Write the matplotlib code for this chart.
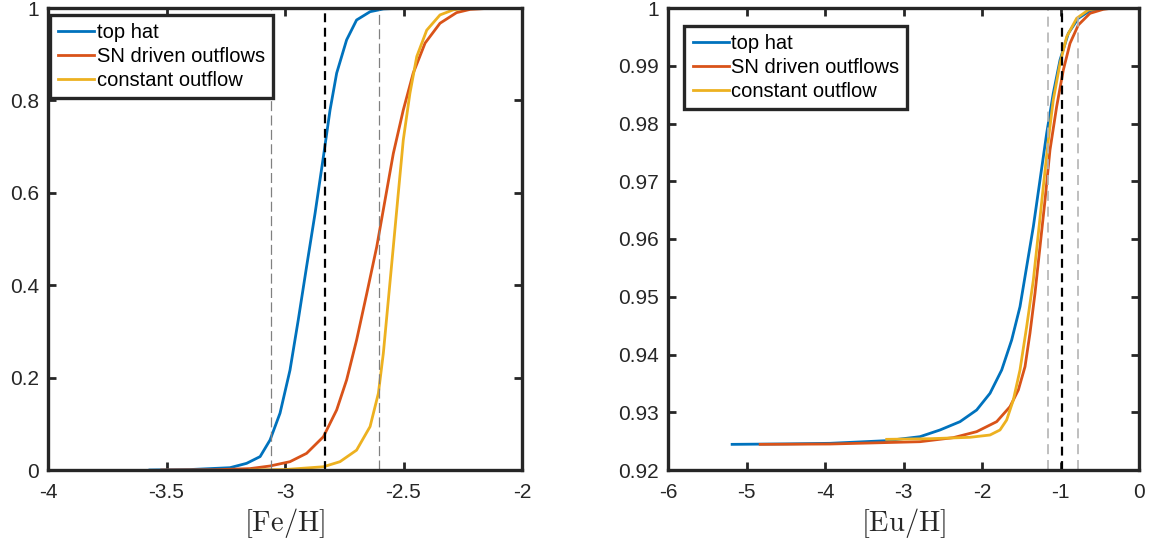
import matplotlib
matplotlib.use('Agg')
import matplotlib.pyplot as plt

plt.rcParams['font.family'] = ['Liberation Sans', 'DejaVu Sans']
plt.rcParams['mathtext.fontset'] = 'cm'

# colours (MATLAB defaults)
c_blue = '#0072BD'
c_red = '#D95319'
c_yel = '#EDB120'
labels = ['top hat', 'SN driven outflows', 'constant outflow']

# ---- left panel: [Fe/H] cumulative distributions
fe_top_x = [-3.57, -3.40, -3.232, -3.162, -3.105, -3.063, -3.021, -2.979, -2.944, -2.909,
            -2.873, -2.838, -2.810, -2.782, -2.740, -2.698, -2.641, -2.585, -2.487]
fe_top_y = [0.0, 0.001, 0.005, 0.0144, 0.029, 0.065, 0.123, 0.216, 0.325, 0.44,
            0.556, 0.678, 0.779, 0.859, 0.931, 0.974, 0.992, 0.998, 1.0]
fe_sn_x = [-3.52, -3.30, -3.148, -3.063, -2.979, -2.909, -2.838, -2.782, -2.740, -2.698,
           -2.655, -2.613, -2.578, -2.543, -2.501, -2.459, -2.409, -2.346, -2.276, -2.219,
           -2.15, -2.056]
fe_sn_y = [0.0, 0.0005, 0.003, 0.0087, 0.018, 0.036, 0.072, 0.130, 0.195, 0.281,
           0.382, 0.483, 0.584, 0.685, 0.779, 0.859, 0.924, 0.967, 0.990, 0.997,
           0.999, 1.0]
fe_con_x = [-3.148, -3.00, -2.838, -2.768, -2.698, -2.641, -2.606, -2.585, -2.564, -2.543,
            -2.522, -2.501, -2.473, -2.444, -2.402, -2.346, -2.290, -2.233]
fe_con_y = [0.0, 0.001, 0.007, 0.018, 0.043, 0.094, 0.166, 0.253, 0.368, 0.483,
            0.599, 0.714, 0.815, 0.895, 0.952, 0.985, 0.996, 1.0]
fe_vlines_grey = [-3.060, -2.602]
fe_vline_black = -2.831

# ---- right panel: [Eu/H] cumulative distributions
eu_top_x = [-5.183, -4.5, -3.936, -3.214, -2.790, -2.535, -2.280, -2.068, -1.898, -1.749,
            -1.622, -1.516, -1.431, -1.346, -1.261, -1.176, -1.092, -1.006, -0.900, -0.773,
            -0.624, -0.411]
eu_top_y = [0.92444, 0.92452, 0.92462, 0.92508, 0.92577, 0.92693, 0.92837, 0.93039, 0.93328,
            0.93732, 0.94251, 0.94828, 0.95521, 0.96214, 0.97022, 0.97831, 0.98523, 0.99100,
            0.99562, 0.99822, 0.99954, 1.0]
eu_sn_x = [-4.826, -3.936, -2.790, -2.366, -2.068, -1.813, -1.643, -1.537, -1.452, -1.389,
           -1.325, -1.261, -1.197, -1.134, -1.049, -0.964, -0.879, -0.773, -0.624, -0.455,
           -0.327]
eu_sn_y = [0.92444, 0.92450, 0.92490, 0.92560, 0.92664, 0.92837, 0.93097, 0.93386, 0.93790,
           0.94367, 0.95060, 0.95867, 0.96675, 0.97541, 0.98292, 0.98926, 0.99388, 0.99706,
           0.99908, 0.99977, 1.0]
eu_con_x = [-3.214, -2.662, -2.153, -1.898, -1.771, -1.686, -1.601, -1.516, -1.431, -1.346,
            -1.282, -1.219, -1.155, -1.092, -1.006, -0.921, -0.794, -0.646, -0.497]
eu_con_y = [0.92531, 0.92542, 0.92566, 0.92606, 0.92693, 0.92866, 0.93212, 0.93732, 0.94482,
            0.95290, 0.96098, 0.96906, 0.97714, 0.98407, 0.99042, 0.99504, 0.99822, 0.99965,
            1.0]
eu_vlines_grey = [-1.155, -0.781]
eu_vline_black = -0.977

fe_xticks = [-4, -3.5, -3, -2.5, -2]
fe_xticklabels = ['-4', '-3.5', '-3', '-2.5', '-2']
fe_yticks = [0, 0.2, 0.4, 0.6, 0.8, 1]
fe_yticklabels = ['0', '0.2', '0.4', '0.6', '0.8', '1']
eu_xticks = [-6, -5, -4, -3, -2, -1, 0]
eu_xticklabels = ['-6', '-5', '-4', '-3', '-2', '-1', '0']
eu_yticks = [0.92, 0.93, 0.94, 0.95, 0.96, 0.97, 0.98, 0.99, 1.0]
eu_yticklabels = ['0.92', '0.93', '0.94', '0.95', '0.96', '0.97', '0.98', '0.99', '1']

W, H = 1153, 543
fig = plt.figure(figsize=(W / 100, H / 100), dpi=100)
ax1 = fig.add_axes([48 / W, (H - 470) / H, 474 / W, 462 / H])
ax2 = fig.add_axes([668 / W, (H - 470) / H, 471 / W, 462 / H])

ink = '#262626'


def style(ax, xt, xtl, yt, ytl, xlim, ylim, xlabel):
    ax.set_xlim(xlim)
    ax.set_ylim(ylim)
    ax.set_xticks(xt)
    ax.set_xticklabels(xtl)
    ax.set_yticks(yt)
    ax.set_yticklabels(ytl)
    ax.tick_params(direction='in', length=6, width=2, colors=ink, labelsize=15,
                   top=True, right=True)
    ax.tick_params(axis='x', pad=9)
    ax.tick_params(axis='y', pad=6.5)
    for s in ax.spines.values():
        s.set_linewidth(2.4)
        s.set_color(ink)
    ax.set_xlabel(xlabel, fontsize=20.5, color=ink, labelpad=3)


lw = 2.0
ax1.plot(fe_top_x, fe_top_y, color=c_blue, lw=lw, label=labels[0])
ax1.plot(fe_sn_x, fe_sn_y, color=c_red, lw=lw, label=labels[1])
ax1.plot(fe_con_x, fe_con_y, color=c_yel, lw=lw, label=labels[2])
for v in fe_vlines_grey:
    ax1.axvline(v, color='#808080', lw=0.9, ls=(0, (8, 3.5)))
ax1.axvline(fe_vline_black, color='black', lw=1.6, ls=(0, (4, 2.5)))
style(ax1, fe_xticks, fe_xticklabels, fe_yticks, fe_yticklabels, (-4, -2), (0, 1),
      r'$[\mathrm{Fe/H}]$')

ax2.plot(eu_top_x, eu_top_y, color=c_blue, lw=lw, label=labels[0])
ax2.plot(eu_sn_x, eu_sn_y, color=c_red, lw=lw, label=labels[1])
ax2.plot(eu_con_x, eu_con_y, color=c_yel, lw=lw, label=labels[2])
for v in eu_vlines_grey:
    ax2.axvline(v, color='#b4b4b4', lw=1.2, ls=(0, (6, 3.5)))
ax2.axvline(eu_vline_black, color='black', lw=1.6, ls=(0, (4, 2.5)))
style(ax2, eu_xticks, eu_xticklabels, eu_yticks, eu_yticklabels, (-6, 0), (0.92, 1.0),
      r'$[\mathrm{Eu/H}]$')


def legend(ax, anchor):
    lg = ax.legend(loc='upper left', bbox_to_anchor=anchor, fontsize=14.5,
                   frameon=True, fancybox=False, handlelength=1.8, handletextpad=0.12,
                   borderpad=0.4, labelspacing=0.25, borderaxespad=0)
    fr = lg.get_frame()
    fr.set_edgecolor(ink)
    fr.set_linewidth(2.4)
    fr.set_alpha(1)


legend(ax1, (0.004, 0.985))
legend(ax2, (0.035, 0.961))

fig.savefig('out.png', dpi=100)
